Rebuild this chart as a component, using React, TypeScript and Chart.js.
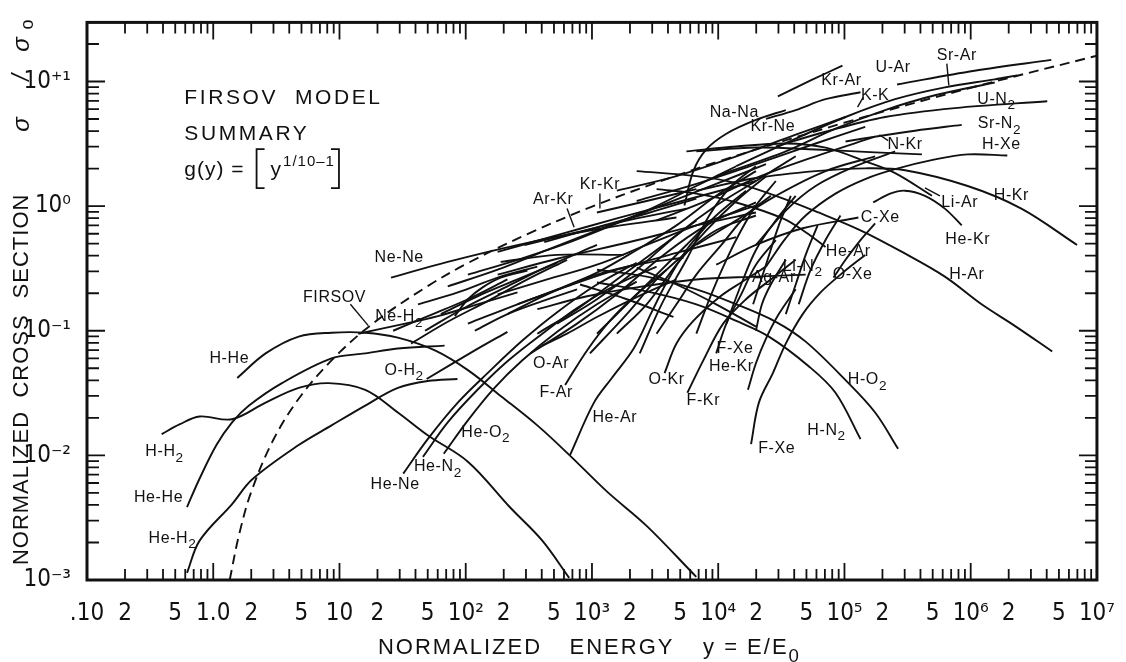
import React, { useEffect, useRef } from 'react';
import { Chart, registerables } from 'chart.js';

Chart.register(...registerables);

type P = [number, number];

// ---------- axis ticks ----------
const xLabelValues = [0.1, 0.2, 0.5, 1, 2, 5, 10, 20, 50, 100, 200, 500, 1e3, 2e3, 5e3, 1e4, 2e4, 5e4, 1e5, 2e5, 5e5, 1e6, 2e6, 5e6, 1e7];
const xLabelTexts = ['.10', '2', '5', '1.0', '2', '5', '10', '2', '5', '10²', '2', '5', '10³', '2', '5', '10⁴', '2', '5', '10⁵', '2', '5', '10⁶', '2', '5', '10⁷'];
const yLabelValues = [1e-3, 1e-2, 1e-1, 1, 10];
const yLabelTexts = ['10⁻³', '10⁻²', '10⁻¹', '10⁰', '10⁺¹'];
const xDecades = [0.1, 1, 10, 100, 1e3, 1e4, 1e5, 1e6];
const yDecades = [1e-3, 1e-2, 1e-1, 1, 10];
const minorMultipliers = [1, 2, 3, 4, 5, 6, 7, 8, 9];

// ---------- curves (x = E/E0, y = sigma/sigma0) ----------
const FIRSOV: P[] = [[1.35, 0.001], [1.6, 0.0023], [2, 0.0051], [3, 0.0134], [5, 0.0305], [10, 0.067], [20, 0.122], [50, 0.228], [100, 0.342], [300, 0.59], [1e3, 0.99], [3e3, 1.5], [1e4, 2.28], [1e5, 4.67], [1e6, 8.9], [1e7, 16.1]];
const H_H2: P[] = [[0.39, 0.0148], [0.54, 0.0177], [0.78, 0.0205], [1.41, 0.0195], [2.6, 0.0265], [4.75, 0.0348], [8.2, 0.038], [16, 0.0336], [29, 0.0221], [50, 0.0145], [104, 0.0089], [226, 0.0038], [404, 0.00207], [660, 0.00104]];
const H_He: P[] = [[1.55, 0.0418], [2.6, 0.0658], [4.75, 0.0898], [8.65, 0.0965], [16, 0.0965], [29, 0.088], [57, 0.0695], [104, 0.0483], [189, 0.03], [369, 0.0174], [660, 0.0101], [1310, 0.00514], [2710, 0.00272], [6700, 0.00106]];
const He_He: P[] = [[0.62, 0.00385], [0.78, 0.00652], [1.06, 0.0121], [1.41, 0.0184], [1.92, 0.0251], [3.5, 0.038], [8.65, 0.06], [16, 0.0658], [29, 0.072], [68, 0.076]];
const He_H2: P[] = [[0.62, 0.00114], [0.78, 0.00207], [1.41, 0.00407], [2.03, 0.0064], [4.75, 0.0121], [8.65, 0.0174], [16, 0.0251], [29, 0.0348], [50, 0.0395], [86, 0.041]];
const O_H2: P[] = [[49, 0.041], [118, 0.0695], [214, 0.098]];
const Ne_H2: P[] = [[14.1, 0.0947], [29.2, 0.111], [60.2, 0.131], [124, 0.163], [257, 0.203]];
const Ne_Ne: P[] = [[25.6, 0.267], [72, 0.357], [256, 0.487], [1090, 0.652], [4670, 0.81]];
const Ar_Kr: P[] = [[292, 0.488], [762, 0.617], [2260, 0.797], [5600, 0.955]];
const Kr_Kr: P[] = [[1095, 0.889], [2710, 1.1], [6710, 1.37]];
const He_Ne: P[] = [[32, 0.00714], [50, 0.0135], [86.5, 0.0265], [149, 0.0457], [281, 0.0834], [530, 0.141], [1095, 0.235], [2260, 0.351]];
const He_N2: P[] = [[45.8, 0.00973], [72, 0.0184], [124, 0.0336], [214, 0.0569], [404, 0.0947], [762, 0.152], [1574, 0.235], [3250, 0.327]];
const He_O2: P[] = [[67, 0.0103], [104, 0.0191], [169, 0.0348], [281, 0.0579], [530, 0.0982], [1095, 0.163], [2260, 0.248]];
const He_Ar_lo: P[] = [[671, 0.0101], [1037, 0.0265], [1437, 0.0418], [2140, 0.0721], [2970, 0.141], [3900, 0.244], [5600, 0.445], [8810, 0.768]];
const O_Ar: P[] = [[404, 0.076], [635, 0.0947], [1095, 0.129], [2260, 0.186], [4670, 0.258]];
const F_Ar: P[] = [[613, 0.0367], [914, 0.0695], [1387, 0.12], [2260, 0.196], [3900, 0.309]];
const O_Kr: P[] = [[3760, 0.0457], [4670, 0.0789], [6350, 0.12], [10190, 0.186], [15200, 0.244], [23900, 0.327]];
const F_Kr: P[] = [[5700, 0.0318], [7620, 0.0579], [10950, 0.114], [16600, 0.179], [26100, 0.258], [41100, 0.371]];
const F_Xe_a: P[] = [[19900, 0.1], [22200, 0.163], [26100, 0.235], [34300, 0.371]];
const He_Kr_lo: P[] = [[17200, 0.0336], [19900, 0.0548], [23900, 0.0865], [30200, 0.136], [41100, 0.215]];
const F_Xe_b: P[] = [[18200, 0.0123], [21000, 0.0265], [27100, 0.0457], [34300, 0.0789], [46700, 0.136], [64700, 0.203], [93000, 0.282], [146000, 0.406]];
const H_N2: P[] = [[1095, 0.244], [2710, 0.207], [6710, 0.163], [13900, 0.12], [25200, 0.0897], [52100, 0.0519], [84900, 0.0318], [134000, 0.0135]];
const H_O2: P[] = [[1095, 0.309], [2710, 0.272], [6710, 0.215], [13900, 0.163], [28600, 0.118], [49300, 0.0818], [102000, 0.0402], [175000, 0.0221], [266000, 0.0113]];
const U_Ar: P[] = [[261000, 9.47], [1.07e6, 12.2], [4.35e6, 14.9]];
const Kr_Ar_hi: P[] = [[29700, 7.61], [54000, 10.2], [96400, 13.4]];
const Kr_Ar_lo: P[] = [[23900, 5.01], [41100, 5.9], [70800, 7.21], [134000, 8.19]];
const Sr_Ar: P[] = [[13900, 2.09], [41100, 3.48], [102000, 5.19], [252000, 7.21], [624000, 8.97], [1.55e6, 10.4], [2.34e6, 11.2]];
const K_K: P[] = [[9640, 1.74], [34300, 2.75], [84900, 4.18], [210000, 5.9], [521000, 7.75], [1.55e6, 9.82]];
const U_N2: P[] = [[28600, 3.01], [70800, 3.95], [210000, 5.19], [748000, 6.12], [4.04e6, 6.95]];
const Sr_N2: P[] = [[102000, 3.3], [175000, 3.61], [362000, 4.03], [849000, 4.49]];
const N_Kr: P[] = [[6710, 2.75], [19900, 2.95], [59100, 2.85], [175000, 2.7], [411000, 2.6]];
const Na_Na: P[] = [[5400, 1.01], [6350, 1.91], [8050, 2.85], [11600, 3.81], [19900, 4.92], [34300, 5.9]];
const H_Xe: P[] = [[23900, 0.327], [34300, 0.553], [49300, 0.841], [84900, 1.26], [146000, 1.65], [252000, 1.98], [521000, 2.37], [947000, 2.6], [1.95e6, 2.55]];
const H_Kr: P[] = [[6710, 1.33], [19900, 1.68], [59100, 1.91], [146000, 2.01], [302000, 1.94], [947000, 1.45], [2.52e6, 0.955], [6.96e6, 0.488]];
const Li_Ar: P[] = [[5600, 2.75], [13900, 3.01], [34300, 3.18], [70800, 2.95], [146000, 2.29], [252000, 1.84], [493000, 1.21]];
const He_Kr_hi: P[] = [[169000, 1.07], [230000, 1.26], [302000, 1.33], [434000, 1.21], [624000, 0.955], [849000, 0.701]];
const C_Xe: P[] = [[9640, 0.339], [19900, 0.488], [46700, 0.664], [129000, 0.811]];
const He_Ar_hi: P[] = [[3250, 1.37], [6710, 1.26], [13900, 1.07], [32500, 0.797], [49300, 0.617], [70800, 0.47]];
const H_Ar: P[] = [[2260, 1.91], [6710, 1.74], [13900, 1.53], [28600, 1.21], [62400, 0.889], [134000, 0.64], [286000, 0.429], [624000, 0.272], [1.22e6, 0.163], [2.22e6, 0.11], [4.42e6, 0.0682]];
const Ag_Ar: P[] = [[18900, 0.163], [23900, 0.339], [30200, 0.701], [37600, 1.21]];
const Li_N2: P[] = [[34300, 0.136], [41100, 0.235], [49300, 0.406], [61300, 0.701]];
const Misc_a: P[] = [[43400, 0.163], [54000, 0.309], [70800, 0.534], [93000, 0.841]];
const O_Xe: P[] = [[81900, 0.267], [102000, 0.371], [134000, 0.534], [175000, 0.727]];
const Misc_b: P[] = [[26.6, 0.1], [50.2, 0.131], [104, 0.179], [214, 0.258]];

// central bundle (unlabelled pairs)
const B01: P[] = [[36.9, 0.0789], [72, 0.118], [149, 0.173], [308, 0.258], [635, 0.371]];
const B02: P[] = [[47.6, 0.1], [104, 0.158], [214, 0.227], [442, 0.327], [1095, 0.488]];
const B03: P[] = [[63.6, 0.136], [124, 0.189], [257, 0.258], [530, 0.351]];
const B04: P[] = [[81.9, 0.131], [104, 0.179], [136, 0.223], [189, 0.267], [308, 0.304]];
const B05: P[] = [[118, 0.1], [214, 0.136], [404, 0.173], [762, 0.215]];
const B06: P[] = [[41.9, 0.163], [86.5, 0.203], [179, 0.267], [369, 0.327]];
const B07: P[] = [[179, 0.429], [530, 0.585], [1574, 0.797], [4670, 1.07], [19900, 1.59]];
const B09: P[] = [[419, 0.515], [1095, 0.676], [2710, 0.873], [6710, 1.15]];
const B11: P[] = [[189, 0.357], [530, 0.406], [1786, 0.406]];
const B12: P[] = [[179, 0.282], [530, 0.378], [1991, 0.515], [6710, 0.701], [19900, 0.889]];
const B13: P[] = [[179, 0.196], [442, 0.258], [1095, 0.339], [2710, 0.488], [6710, 0.701], [19900, 1.01]];
const B14: P[] = [[214, 0.136], [442, 0.196], [1095, 0.282], [2710, 0.351], [5300, 0.385]];
const B15: P[] = [[325, 0.0658], [762, 0.114], [1574, 0.196], [3690, 0.406], [8050, 0.701], [19900, 1.07]];
const B16: P[] = [[964, 0.0658], [1888, 0.136], [3250, 0.258], [5300, 0.406], [9640, 0.64], [19900, 0.841]];
const B17: P[] = [[2390, 0.0658], [3560, 0.163], [5600, 0.371], [8490, 0.841], [12700, 1.45], [19900, 2.09]];
const B18: P[] = [[2260, 0.321], [4670, 0.235], [9640, 0.163], [19900, 0.108]];
const B19: P[] = [[805, 0.235], [1888, 0.179], [4420, 0.129]];
const B20: P[] = [[72, 0.227], [179, 0.309], [442, 0.445], [1095, 0.64], [2710, 0.921], [6710, 1.45], [13900, 2.09]];
const B21: P[] = [[104, 0.282], [257, 0.371], [635, 0.505], [1574, 0.727], [3900, 1.05], [9640, 1.51], [23900, 2.17]];
const B22: P[] = [[257, 0.163], [530, 0.215], [1095, 0.293], [2260, 0.445], [4670, 0.701], [9640, 1.21], [19900, 1.91]];
const B23: P[] = [[530, 0.114], [1095, 0.179], [2260, 0.309], [4670, 0.585], [9640, 1.01], [19900, 1.59], [41100, 2.51]];
const B24: P[] = [[1574, 0.0947], [2710, 0.163], [4670, 0.339], [8050, 0.64], [13900, 1.1], [23900, 1.74]];
const B25: P[] = [[6710, 0.0947], [8810, 0.196], [11600, 0.371], [15200, 0.64], [19900, 1.01], [28600, 1.59]];
const B26: P[] = [[11600, 0.114], [15200, 0.235], [19900, 0.445], [28600, 0.768], [41100, 1.21]];
const B27: P[] = [[104, 0.114], [257, 0.163], [635, 0.227], [1574, 0.309], [4670, 0.421], [13900, 0.564]];
const B28: P[] = [[369, 0.149], [914, 0.189], [2260, 0.223], [6710, 0.258], [19900, 0.272], [49300, 0.282]];
const B29: P[] = [[1574, 1.33], [4670, 1.74], [13900, 2.51], [41100, 3.74], [102000, 5.19]];
const B30: P[] = [[2260, 1.1], [6710, 1.51], [19900, 2.17], [59100, 3.18], [146000, 4.33]];
const B31: P[] = [[3250, 0.768], [8050, 1.1], [19900, 1.68], [59100, 2.51], [175000, 3.61]];
const B32: P[] = [[6710, 0.488], [13900, 0.768], [28600, 1.21], [70800, 1.91], [175000, 2.51]];
const B33: P[] = [[19900, 0.488], [34300, 0.921], [59100, 1.45], [122000, 2.09], [252000, 2.75]];
const B35: P[] = [[369, 0.0947], [762, 0.149], [1574, 0.258], [3250, 0.445], [6710, 0.768]];
const B36: P[] = [[1095, 0.0947], [1888, 0.163], [3250, 0.282], [5600, 0.488], [9640, 0.841], [16600, 1.33]];
const B37: P[] = [[3250, 0.0947], [4670, 0.163], [6710, 0.282], [10600, 0.488], [16600, 0.841], [26100, 1.21]];
const B38: P[] = [[9640, 0.0658], [11600, 0.114], [15200, 0.196], [19900, 0.339], [28600, 0.534]];

const solidCurves: P[][] = [
  H_H2, H_He, He_He, He_H2, O_H2, Ne_H2, Ne_Ne, Ar_Kr, Kr_Kr, He_Ne, He_N2, He_O2, He_Ar_lo, O_Ar, F_Ar, O_Kr, F_Kr,
  F_Xe_a, He_Kr_lo, F_Xe_b, H_N2, H_O2, U_Ar, Kr_Ar_hi, Kr_Ar_lo, Sr_Ar, K_K, U_N2, Sr_N2, N_Kr, Na_Na, H_Xe, H_Kr,
  Li_Ar, He_Kr_hi, C_Xe, He_Ar_hi, H_Ar, Ag_Ar, Li_N2, Misc_a, O_Xe, Misc_b,
  B01, B02, B03, B04, B05, B06, B07, B09, B11, B12, B13, B14, B15, B16, B17, B18, B19, B20, B21, B22, B23, B24, B25,
  B26, B27, B28, B29, B30, B31, B32, B33, B35, B36, B37, B38,
];

// ---------- curve labels: [text, x, y]  ("_" marks a subscript character) ----------
const curveLabels: [string, number, number][] = [
  ['H-He', 1.34, 0.06], ['H-H_2', 0.411, 0.0107], ['He-He', 0.369, 0.00461], ['He-H_2', 0.475, 0.00215],
  ['FIRSOV', 9.14, 0.186], ['Ne-H_2', 29.7, 0.129], ['Ne-Ne', 29.7, 0.385], ['O-H_2', 32.5, 0.0483],
  ['He-O_2', 144, 0.0153], ['He-N_2', 60.2, 0.0081], ['He-Ne', 27.6, 0.00585], ['O-Ar', 475, 0.0548],
  ['F-Ar', 521, 0.0318], ['He-Ar', 1517, 0.0201], ['O-Kr', 3900, 0.0402], ['F-Kr', 7620, 0.0275],
  ['F-Xe', 13600, 0.0721], ['He-Kr', 12700, 0.0519], ['F-Xe', 29100, 0.0113], ['H-N_2', 72100, 0.0159],
  ['H-O_2', 152000, 0.0402], ['Ag-Ar', 27600, 0.267], ['Li-N_2', 46700, 0.327], ['O-Xe', 116000, 0.282],
  ['He-Ar', 107000, 0.429], ['C-Xe', 192000, 0.811], ['H-Ar', 931000, 0.282], ['He-Kr', 947000, 0.534],
  ['Li-Ar', 819000, 1.07], ['H-Kr', 2.1e6, 1.21], ['H-Xe', 1.75e6, 3.12], ['N-Kr', 302000, 3.12],
  ['Sr-N_2', 1.69e6, 4.57], ['U-N_2', 1.6e6, 7.21], ['U-Ar', 243000, 12.9], ['Sr-Ar', 776000, 16.1],
  ['K-K', 175000, 7.75], ['Kr-Ar', 94700, 10.2], ['Kr-Ne', 27100, 4.33], ['Na-Na', 13400, 5.58],
  ['Kr-Kr', 1156, 1.48], ['Ar-Kr', 493, 1.13],
];

// leader lines: [x1, y1, x2, y2]
const leaders: [number, number, number, number][] = [
  [12.2, 0.163, 16.9, 0.11], [635, 0.955, 722, 0.676], [1156, 1.26, 1156, 0.955], [647000, 13.9, 671000, 9.3],
  [570000, 1.21, 434000, 1.4], [222000, 3.35, 189000, 3.74], [141000, 7.48, 127000, 6.23],
];

// model text block anchor (data coords, left/baseline)
const modelTextX = 0.59;
const modelLines: [string, number][] = [['FIRSOV  MODEL', 6.58], ['SUMMARY', 3.42]];
const formulaY = 1.74;

const X_MIN = 0.1;
const X_MAX = 1e7;
const Y_MIN = 1e-3;
const Y_MAX = 29.8;

const FONT = "'Liberation Sans', 'DejaVu Sans', sans-serif";
const NARROW = "'Liberation Sans Narrow', 'DejaVu Sans Condensed', 'Liberation Sans', sans-serif";

function allTicks(decades: number[], max: number): number[] {
  const out: number[] = [];
  decades.forEach((d) => minorMultipliers.forEach((m) => { const v = d * m; if (v <= max * 1.0001) out.push(v); }));
  if (!out.some((v) => Math.abs(v / max - 1) < 1e-6) && max === X_MAX) out.push(max);
  return out;
}
const xAll = allTicks(xDecades, X_MAX);
const yAll = allTicks(yDecades, Y_MAX);

function findLabel(vals: number[], texts: string[], v: number): string {
  for (let i = 0; i < vals.length; i++) if (Math.abs(v / vals[i] - 1) < 1e-6) return texts[i];
  return '';
}

function drawRich(ctx: CanvasRenderingContext2D, text: string, cx: number, cy: number, size: number, family: string) {
  const parts: { t: string; sub: boolean }[] = [];
  let i = 0;
  while (i < text.length) {
    if (text[i] === '_') { parts.push({ t: text[i + 1], sub: true }); i += 2; }
    else { let j = i; while (j < text.length && text[j] !== '_') j++; parts.push({ t: text.slice(i, j), sub: false }); i = j; }
  }
  const widths = parts.map((p) => { ctx.font = `${p.sub ? size * 0.85 : size}px ${family}`; return ctx.measureText(p.t).width; });
  const total = widths.reduce((a, b) => a + b, 0);
  let x = cx - total / 2;
  ctx.textAlign = 'left';
  ctx.textBaseline = 'middle';
  parts.forEach((p, k) => {
    ctx.font = `${p.sub ? size * 0.85 : size}px ${family}`;
    ctx.fillText(p.t, x, cy + (p.sub ? size * 0.38 : 0));
    x += widths[k];
  });
}

const decorPlugin = {
  id: 'decor',
  afterDraw(chart: any) {
    const ctx: CanvasRenderingContext2D = chart.ctx;
    const { left, right, top, bottom } = chart.chartArea;
    const xs = chart.scales.x;
    const ys = chart.scales.y;
    ctx.save();
    ctx.strokeStyle = '#111';
    ctx.fillStyle = '#111';
    // ticks
    ctx.lineWidth = 1.8;
    const isDecade = (v: number) => Math.abs(Math.log10(v) - Math.round(Math.log10(v))) < 1e-6;
    xAll.forEach((v) => {
      const px = xs.getPixelForValue(v);
      const len = isDecade(v) ? 17 : 11;
      ctx.beginPath();
      ctx.moveTo(px, bottom); ctx.lineTo(px, bottom - len);
      ctx.moveTo(px, top); ctx.lineTo(px, top + len);
      ctx.stroke();
    });
    yAll.forEach((v) => {
      const py = ys.getPixelForValue(v);
      const len = isDecade(v) ? 18 : 12;
      ctx.beginPath();
      ctx.moveTo(left, py); ctx.lineTo(left + len, py);
      ctx.moveTo(right, py); ctx.lineTo(right - len, py);
      ctx.stroke();
    });
    // frame
    ctx.lineWidth = 3;
    ctx.strokeRect(left, top, right - left, bottom - top);

    // leaders
    ctx.lineWidth = 1.4;
    leaders.forEach(([x1, y1, x2, y2]) => {
      ctx.beginPath();
      ctx.moveTo(xs.getPixelForValue(x1), ys.getPixelForValue(y1));
      ctx.lineTo(xs.getPixelForValue(x2), ys.getPixelForValue(y2));
      ctx.stroke();
    });

    // curve labels
    (ctx as any).letterSpacing = '0.6px';
    curveLabels.forEach(([t, x, y]) => {
      drawRich(ctx, t, xs.getPixelForValue(x), ys.getPixelForValue(y), 16, FONT);
    });

    // model text
    (ctx as any).letterSpacing = '2.6px';
    ctx.textAlign = 'left';
    ctx.textBaseline = 'alphabetic';
    ctx.font = `21px ${FONT}`;
    const mx = xs.getPixelForValue(modelTextX);
    modelLines.forEach(([t, y]) => ctx.fillText(t, mx, ys.getPixelForValue(y)));
    // formula g(y) = [y^(1/10-1)]
    const fb = ys.getPixelForValue(formulaY);
    (ctx as any).letterSpacing = '1px';
    ctx.font = `21px ${FONT}`;
    ctx.fillText('g(y) =', mx, fb);
    let fx = mx + ctx.measureText('g(y) =').width + 12;
    ctx.lineWidth = 1.8;
    const bt = fb - 27, bb = fb + 12;
    ctx.beginPath();
    ctx.moveTo(fx + 8, bt); ctx.lineTo(fx, bt); ctx.lineTo(fx, bb); ctx.lineTo(fx + 8, bb);
    ctx.stroke();
    fx += 14;
    ctx.fillText('y', fx, fb);
    fx += ctx.measureText('y').width + 1;
    ctx.font = `15px ${FONT}`;
    ctx.fillText('1/10–1', fx, fb - 10);
    fx += ctx.measureText('1/10–1').width + 4;
    ctx.beginPath();
    ctx.moveTo(fx - 8, bt); ctx.lineTo(fx, bt); ctx.lineTo(fx, bb); ctx.lineTo(fx - 8, bb);
    ctx.stroke();

    // axis titles
    (ctx as any).letterSpacing = '2px';
    ctx.font = `22px ${FONT}`;
    ctx.textAlign = 'center';
    ctx.textBaseline = 'middle';
    const ty = 648;
    ctx.fillText('NORMALIZED', 460, ty);
    ctx.fillText('ENERGY', 622, ty);
    drawRich(ctx, 'y = E/E_0', 752, ty, 22, FONT);

    ctx.save();
    ctx.translate(22, 0);
    ctx.rotate(-Math.PI / 2);
    (ctx as any).letterSpacing = '1px';
    ctx.font = `22px ${FONT}`;
    ctx.textAlign = 'center';
    ctx.textBaseline = 'middle';
    ctx.fillText('NORMALIZED', -488, 0);
    ctx.fillText('CROSS', -356, 0);
    ctx.fillText('SECTION', -246, 0);
    ctx.font = `italic 24px ${FONT}`;
    ctx.fillText('σ', -124, 0);
    ctx.fillText('/', -77, 0);
    ctx.fillText('σ', -44, 0);
    ctx.font = `18px ${FONT}`;
    ctx.fillText('o', -24, 6);
    ctx.restore();

    (ctx as any).letterSpacing = '0px';
    ctx.restore();
  },
};

export default function App() {
  const ref = useRef<HTMLCanvasElement | null>(null);
  useEffect(() => {
    document.body.style.margin = '0';
    const canvas = ref.current;
    if (!canvas) return;
    const datasets: any[] = solidCurves.map((pts) => ({
      data: pts.map(([x, y]) => ({ x, y })),
      borderColor: '#111',
      borderWidth: 1.9,
      pointRadius: 0,
      tension: 0.35,
      fill: false,
    }));
    datasets.push({
      data: FIRSOV.map(([x, y]) => ({ x, y })),
      borderColor: '#111',
      borderWidth: 1.9,
      borderDash: [10, 6],
      pointRadius: 0,
      tension: 0.35,
      fill: false,
    });
    const chart = new Chart(canvas, {
      type: 'line',
      data: { datasets },
      plugins: [decorPlugin],
      options: {
        animation: false,
        responsive: false,
        maintainAspectRatio: false,
        layout: { padding: { top: 14, right: 23, left: 0, bottom: 0 } },
        plugins: { legend: { display: false }, tooltip: { enabled: false }, title: { display: false } },
        scales: {
          x: {
            type: 'logarithmic',
            min: X_MIN,
            max: X_MAX,
            afterBuildTicks: (s: any) => { s.ticks = xAll.map((v) => ({ value: v })); },
            afterFit: (s: any) => { s.height = 82; },
            grid: { display: false },
            border: { display: false },
            ticks: {
              autoSkip: false,
              maxRotation: 0,
              minRotation: 0,
              padding: 11,
              color: '#111',
              font: { family: NARROW, size: 24 },
              callback: (v: any) => findLabel(xLabelValues, xLabelTexts, Number(v)),
            },
          },
          y: {
            type: 'logarithmic',
            min: Y_MIN,
            max: Y_MAX,
            afterBuildTicks: (s: any) => { s.ticks = yAll.map((v) => ({ value: v })); },
            afterFit: (s: any) => { s.width = 87; },
            grid: { display: false },
            border: { display: false },
            ticks: {
              autoSkip: false,
              padding: 8,
              color: '#111',
              font: { family: NARROW, size: 24 },
              callback: (v: any) => findLabel(yLabelValues, yLabelTexts, Number(v)),
            },
          },
        },
      } as any,
    });
    return () => chart.destroy();
  }, []);
  return (
    <div style={{ width: 1126, height: 662, background: '#fff' }}>
      <canvas ref={ref} width={1126} height={662} style={{ display: 'block' }} />
    </div>
  );
}
